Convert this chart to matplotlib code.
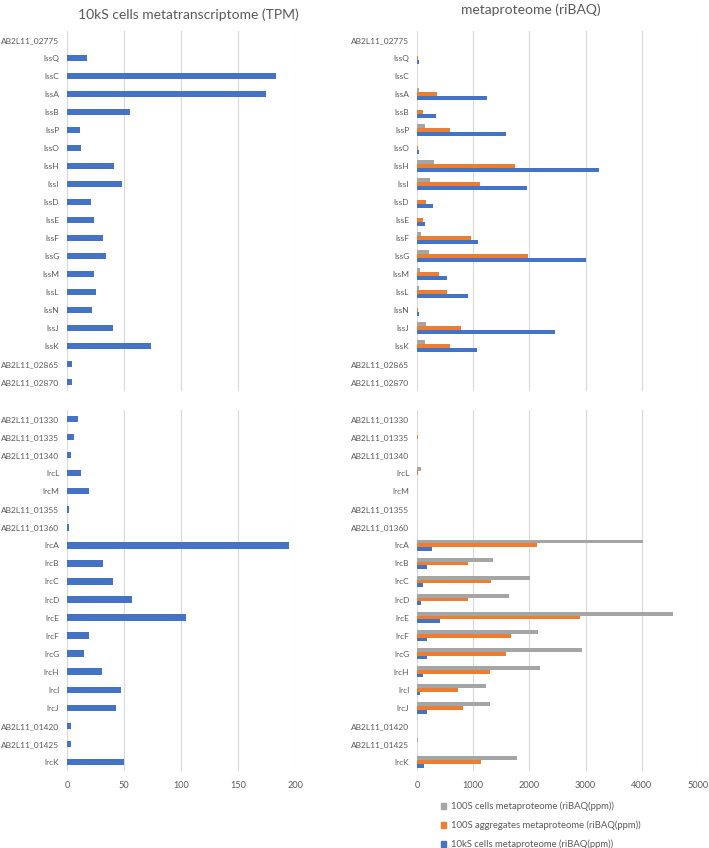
import numpy as np
import matplotlib.pyplot as plt
from matplotlib.patches import Patch

plt.rcParams['font.family'] = ['Lato', 'DejaVu Sans']

# top operon (lss)
genes_top = ['AB2L11_02775', 'lssQ', 'lssC', 'lssA', 'lssB', 'lssP', 'lssO', 'lssH', 'lssI', 'lssD',
             'lssE', 'lssF', 'lssG', 'lssM', 'lssL', 'lssN', 'lssJ', 'lssK', 'AB2L11_02865', 'AB2L11_02870']
tpm_top = [0, 17.5, 183, 174.5, 55, 11, 12, 41, 48, 21,
           24, 31.5, 34, 24, 25, 22, 40, 74, 4.5, 4.5]
cells100_top = [0, 0, 0, 35, 0, 148, 0, 302, 237, 0,
                0, 71, 213, 47, 41, 0, 154, 136, 0, 0]
aggr100_top = [0, 18, 0, 349, 112, 580, 18, 1746, 1119, 166,
               112, 965, 1983, 391, 527, 12, 776, 586, 0, 0]
cells10k_top = [0, 41, 0, 1237, 343, 1581, 35, 3232, 1960, 290,
                142, 1083, 3013, 539, 912, 35, 2457, 1066, 0, 0]

# bottom operon (lrc)
genes_bot = ['AB2L11_01330', 'AB2L11_01335', 'AB2L11_01340', 'lrcL', 'lrcM', 'AB2L11_01355', 'AB2L11_01360',
             'lrcA', 'lrcB', 'lrcC', 'lrcD', 'lrcE', 'lrcF', 'lrcG', 'lrcH', 'lrcI', 'lrcJ',
             'AB2L11_01420', 'AB2L11_01425', 'lrcK']
tpm_bot = [9.6, 6.5, 3.8, 12.5, 19, 1.5, 2, 194.5, 32, 40.5, 57.3, 104.4, 19.6, 15.2, 30.7, 47, 42.7,
           3.5, 3.5, 50.3]
cells100_bot = [5, 0, 0, 71, 5, 0, 0, 4026, 1356, 2019, 1634, 4547, 2155, 2930, 2190, 1231, 1291,
                0, 18, 1776]
aggr100_bot = [0, 18, 0, 18, 0, 0, 0, 2137, 900, 1314, 900, 2901, 1675, 1581, 1302, 734, 817,
               0, 0, 1137]
cells10k_bot = [0, 0, 0, 0, 0, 0, 0, 272, 178, 112, 71, 403, 178, 172, 107, 59, 184,
                0, 0, 130]

series_names = ['100S cells metaproteome (riBAQ(ppm))',
                '100S aggregates metaproteome (riBAQ(ppm))',
                '10kS cells metaproteome (riBAQ(ppm))']
tpm_ticks = [0, 50, 100, 150, 200]
prot_ticks = [0, 1000, 2000, 3000, 4000, 5000]

BLUE, ORANGE, GRAY = '#4472C4', '#ED7D31', '#A5A5A5'
TXT = '#595959'
W, H = 709, 848

fig = plt.figure(figsize=(W / 100, H / 100), dpi=100)


def px_axes(x0, x1, y0, y1):
    return fig.add_axes([x0 / W, 1 - y1 / H, (x1 - x0) / W, (y1 - y0) / H])


def style(ax, genes, xmax, ticks, show_x):
    ax.set_ylim(len(genes) - 0.5, -0.5)
    ax.set_yticks(np.arange(len(genes)))
    ax.set_yticklabels(genes)
    ax.set_xlim(0, xmax)
    ax.set_xticks(ticks)
    ax.grid(axis='x', color='#D9D9D9', linewidth=0.8)
    ax.set_axisbelow(True)
    for s in ax.spines.values():
        s.set_visible(False)
    ax.tick_params(axis='y', length=0, labelsize=6.0, colors=TXT, pad=5.5)
    ax.tick_params(axis='x', length=0, labelsize=6.6, colors=TXT, pad=7)
    if not show_x:
        ax.set_xticklabels([])


panels = [
    (67, 295, 31, 391, genes_top, False),
    (67, 295, 410, 771, genes_bot, True),
]
tpm_data = [tpm_top, tpm_bot]
for (x0, x1, y0, y1, genes, showx), vals in zip(panels, tpm_data):
    ax = px_axes(x0, x1, y0, y1)
    ax.barh(np.arange(len(genes)), vals, height=0.36, color=BLUE)
    style(ax, genes, 200, tpm_ticks, showx)

prot_data = [(cells100_top, aggr100_top, cells10k_top), (cells100_bot, aggr100_bot, cells10k_bot)]
for (x0, x1, y0, y1, genes, showx), (g, o, b) in zip(panels, prot_data):
    ax = px_axes(417, 698, y0, y1)
    y = np.arange(len(genes))
    h = 0.21
    ax.barh(y - h, g, height=h, color=GRAY)
    ax.barh(y, o, height=h, color=ORANGE)
    ax.barh(y + h, b, height=h, color=BLUE)
    style(ax, genes, 5000, prot_ticks, showx)

fig.text(188 / W, 1 - 15 / H, '10kS cells metatranscriptome (TPM)', ha='center', va='center',
         fontsize=10, color=TXT)
fig.text(531 / W, 1 - 10 / H, 'metaproteome (riBAQ)', ha='center', va='center',
         fontsize=10, color=TXT)

handles = [Patch(color=c) for c in (GRAY, ORANGE, BLUE)]
leg = fig.legend(handles, series_names, loc='upper left', bbox_to_anchor=(436 / W, 1 - 797 / H),
                 frameon=False, fontsize=6.8, handlelength=0.6, handleheight=0.6, handletextpad=0.5,
                 labelspacing=1.0, borderpad=0)
for t in leg.get_texts():
    t.set_color(TXT)

fig.savefig('out.png', dpi=100)
